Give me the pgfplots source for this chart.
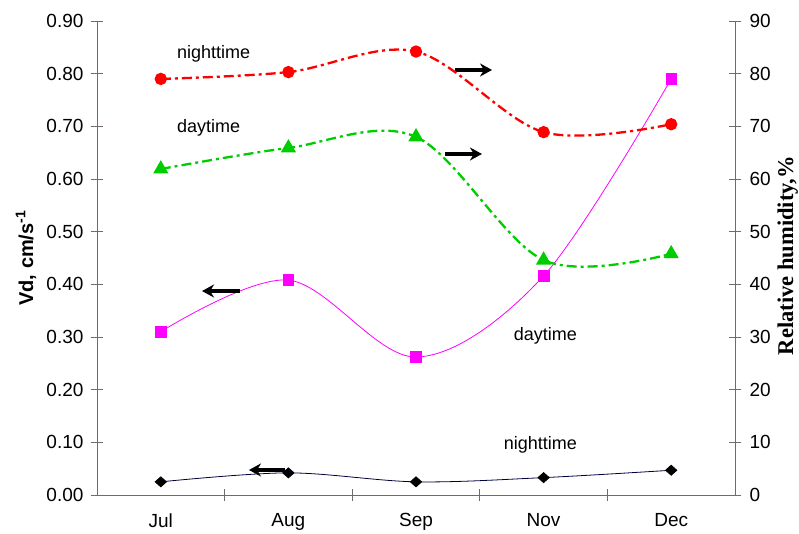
\documentclass[border=0pt]{standalone}
\usepackage{fontspec}
\setmainfont{Liberation Sans}
\newfontfamily\timesfont{Liberation Serif}
\usepackage{pgfplots}
\pgfplotsset{compat=1.18}
\usetikzlibrary{arrows.meta}
\definecolor{axgray}{RGB}{115,105,105}
\definecolor{rhred}{RGB}{255,0,0}
\definecolor{rhgreen}{RGB}{0,205,0}
\definecolor{vdmag}{RGB}{255,0,255}
\definecolor{vdnavy}{RGB}{0,0,60}
\pgfplotstableread{
x vdday vdnight
0 0.310 0.025
1 0.408 0.042
2 0.262 0.025
3 0.416 0.033
4 0.790 0.047
}\vdtable
\pgfplotstableread{
x rhnight rhday
0 79.0 61.9
1 80.3 65.9
2 84.2 68.0
3 68.9 44.6
4 70.4 45.8
}\rhtable
\begin{document}
\begin{tikzpicture}
\pgfplotsset{
  common/.style={
    scale only axis, width=638pt, height=474pt,
    xmin=-0.5, xmax=4.5, ymin=0,
    axis line style={axgray, line width=0.8pt},
    tick style={axgray, line width=0.8pt},
    major tick length=12pt, minor tick length=12pt,
    tick align=center,
    /pgf/number format/assume math mode=true,
    tick label style={font=\fontsize{19}{21}\selectfont, black},
    clip=false,
  },
  ddash/.style={dash pattern=on 10pt off 4pt on 3pt off 4pt},
}
\begin{axis}[common,
  axis x line*=bottom, axis y line*=left,
  ymax=0.9, ytick={0,0.1,0.2,0.3,0.4,0.5,0.6,0.7,0.8,0.9},
  yticklabel style={xshift=-4pt, /pgf/number format/.cd, fixed, fixed zerofill, precision=2},
  xticklabel style={yshift=-9pt},
  xtick={0,1,2,3,4}, xticklabels={Jul,Aug,Sep,Nov,Dec},
  major x tick style={draw=none},
  minor xtick={0.5,1.5,2.5,3.5},
  ylabel={\fontsize{20}{22}\selectfont\bfseries Vd, cm/s\textsuperscript{-1}},
  ylabel style={at={(axis description cs:-0.1113,0.5)}, anchor=center},
]
\coordinate (BL) at (rel axis cs:0,0);
\coordinate (TR) at (rel axis cs:1,1);
\addplot[vdmag, line width=0.8pt, smooth, tension=0.55, mark=square*, mark size=5.3pt, mark options={solid, fill=vdmag}] table[x=x, y=vdday] {\vdtable};
\addplot[vdnavy, line width=0.8pt, smooth, tension=0.55, mark=diamond*, mark size=5pt, mark options={solid, fill=black, draw=black, xscale=1.5}] table[x=x, y=vdnight] {\vdtable};
\draw[black, line width=3.5pt, -{Stealth[length=12pt, width=13pt]}] (axis cs:0.621,0.3873) -- (axis cs:0.323,0.3873);
\draw[black, line width=3.5pt, -{Stealth[length=12pt, width=13pt]}] (axis cs:0.973,0.0475) -- (axis cs:0.691,0.0475);
\draw[black, line width=3.5pt, -{Stealth[length=12pt, width=13pt]}] (axis cs:2.306,0.807) -- (axis cs:2.596,0.807);
\draw[black, line width=3.5pt, -{Stealth[length=12pt, width=13pt]}] (axis cs:2.227,0.6475) -- (axis cs:2.517,0.6475);
\node[anchor=base west, font=\fontsize{18}{20}\selectfont, inner sep=0pt] at (axis cs:0.127,0.8297) {nighttime};
\node[anchor=base west, font=\fontsize{18}{20}\selectfont, inner sep=0pt] at (axis cs:0.127,0.6892) {daytime};
\node[anchor=base east, font=\fontsize{18}{20}\selectfont, inner sep=0pt] at (axis cs:3.262,0.2943) {daytime};
\node[anchor=base east, font=\fontsize{18}{20}\selectfont, inner sep=0pt] at (axis cs:3.262,0.0873) {nighttime};
\end{axis}
\begin{axis}[common,
  hide x axis, axis y line*=right,
  ymax=90, ytick={0,10,20,30,40,50,60,70,80,90},
  yticklabel style={xshift=5pt},
  ylabel={\timesfont\fontsize{22.5}{24}\selectfont\bfseries Relative humidity,\%},
  ylabel style={at={(axis description cs:1.0910,0.505)}, anchor=base, inner sep=0pt},
]
\addplot[rhred, line width=2.3pt, ddash, smooth, tension=0.55, mark=*, mark size=5pt, mark options={solid, fill=rhred}] table[x=x, y=rhnight] {\rhtable};
\addplot[rhgreen, line width=2.3pt, ddash, smooth, tension=0.55, mark=triangle*, mark size=6.5pt, mark options={solid, fill=rhgreen}] table[x=x, y=rhday] {\rhtable};
\end{axis}
\pgfresetboundingbox
\path ([shift={(-97pt,-39pt)}]BL) rectangle ([shift={(64pt,21pt)}]TR);
\end{tikzpicture}
\end{document}
